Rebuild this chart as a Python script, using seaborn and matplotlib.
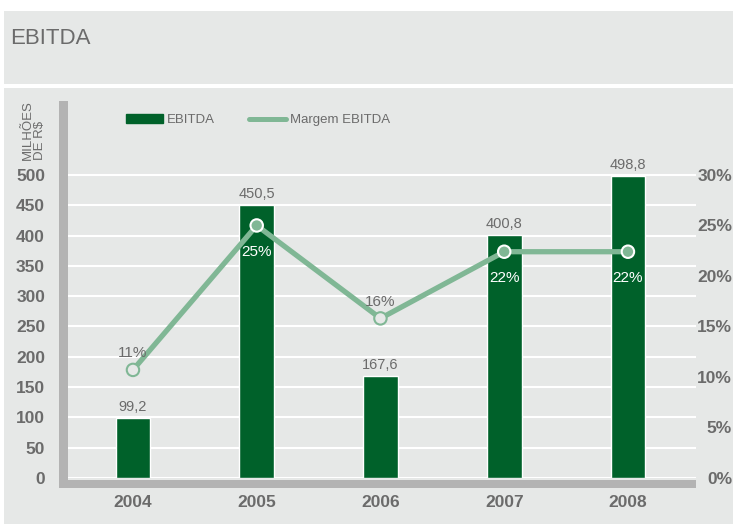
import numpy as np
import matplotlib
matplotlib.use('Agg')
import matplotlib.pyplot as plt
import seaborn as sns
from matplotlib.patches import Rectangle, Patch
from matplotlib.lines import Line2D

# data
years = ['2004', '2005', '2006', '2007', '2008']
ebitda = [99.2, 450.5, 167.6, 400.8, 498.8]
margem = [0.107, 0.25, 0.158, 0.224, 0.224]
margem_labels = ['11%', '25%', '16%', '22%', '22%']
left_ticks = [0, 50, 100, 150, 200, 250, 300, 350, 400, 450, 500]
right_ticks = [0, 0.05, 0.10, 0.15, 0.20, 0.25, 0.30]
right_labels = ['0%', '5%', '10%', '15%', '20%', '25%', '30%']

bar_color = '#00612a'
line_color = '#80b795'
bg = '#e6e8e7'
band = '#b3b3b3'
txt = '#6b6b6b'

sns.set_style('white')
plt.rcParams['font.family'] = ['Liberation Sans', 'DejaVu Sans']

W, H = 733, 526
fig = plt.figure(figsize=(W / 100, H / 100), dpi=100)
fig.patch.set_facecolor('white')


def fx(px):
    return px / W


def fy(py):
    return 1 - py / H


def box(x0, y0, x1, y1, color):
    # rectangle given in pixel coords (top-left origin)
    fig.patches.append(Rectangle((fx(x0), fy(y1)), (x1 - x0) / W, (y1 - y0) / H,
                                 transform=fig.transFigure, color=color,
                                 zorder=-1, lw=0))


# background panels
box(4, 11, 733, 84, bg)
box(4, 88, 733, 524, bg)
# gray axis bars
box(59, 101, 68, 488, band)
box(59, 480, 696, 488, band)

fig.text(fx(10), fy(38), 'EBITDA', fontsize=16, color=txt, va='center', ha='left')
fig.text(fx(34), fy(160), 'MILHÕES\nDE R$', fontsize=9.5, color=txt, rotation=90,
         ha='center', va='bottom', multialignment='left', linespacing=1.0)

ax = fig.add_axes([fx(68), fy(478), (696 - 68) / W, (478 - 101) / H])
ax.set_facecolor(bg)

sns.barplot(x=years, y=ebitda, color=bar_color, saturation=1, width=0.28,
            errorbar=None, ax=ax)
ax.bar_label(ax.containers[0], labels=[f'{v:.1f}'.replace('.', ',') for v in ebitda],
             padding=3, color=txt, fontsize=10.5)

ax.set_xlim(-0.525, 4.55)
ax.set_ylim(0, 622)
ax.set_yticks(left_ticks)
ax.yaxis.grid(True, color='white', lw=1.5)
ax.xaxis.grid(False)
ax.set_axisbelow(True)
for s in ax.spines.values():
    s.set_visible(False)
ax.tick_params(axis='y', length=0, pad=16.5, labelsize=12.5, labelcolor=txt)
ax.tick_params(axis='x', length=0, pad=12, labelsize=12.5, labelcolor=txt)
for lab in ax.get_yticklabels() + ax.get_xticklabels():
    lab.set_fontweight('bold')
ax.set_xlabel('')
ax.set_ylabel('')

# margin line on the right axis
ax2 = ax.twinx()
sns.lineplot(x=years, y=margem, ax=ax2, color=line_color, lw=3.8, sort=False)
inside = [m * 500 / 0.30 < v for m, v in zip(margem, ebitda)]
face = [line_color if i else bg for i in inside]
edge = ['white' if i else line_color for i in inside]
ax2.scatter(years, margem, s=80, facecolors=face, edgecolors=edge, linewidths=1.5,
            zorder=5)
for yr, m, lab, ins in zip(years, margem, margem_labels, inside):
    if ins:
        ax2.annotate(lab, (yr, m), xytext=(0, -19), textcoords='offset points',
                     ha='center', va='center', color='white', fontsize=11)
    else:
        ax2.annotate(lab, (yr, m), xytext=(0, 7), textcoords='offset points',
                     ha='center', va='bottom', color=txt, fontsize=11)

ax2.set_ylim(0, 0.30 * 622 / 500)
ax2.set_yticks(right_ticks)
ax2.set_yticklabels(right_labels)
ax2.tick_params(axis='y', length=0, pad=26, labelsize=12.5, labelcolor=txt)
for lab in ax2.get_yticklabels():
    lab.set_fontweight('bold')
    lab.set_horizontalalignment('right')
for s in ax2.spines.values():
    s.set_visible(False)
ax2.set_ylabel('')
ax2.set_xlabel('')
ax2.grid(False)

handles = [Patch(color=bar_color),
           Line2D([], [], color=line_color, lw=3.6, solid_capstyle='round')]
fig.legend(handles, ['EBITDA', 'Margem EBITDA'], ncol=2, frameon=False,
           loc='center left', bbox_to_anchor=(fx(126), fy(120)),
           borderpad=0, borderaxespad=0, handlelength=2.8, handleheight=0.68,
           handletextpad=0.3, columnspacing=2.6, fontsize=9.5, labelcolor=txt)

fig.savefig('out.png', dpi=100, facecolor='white')
